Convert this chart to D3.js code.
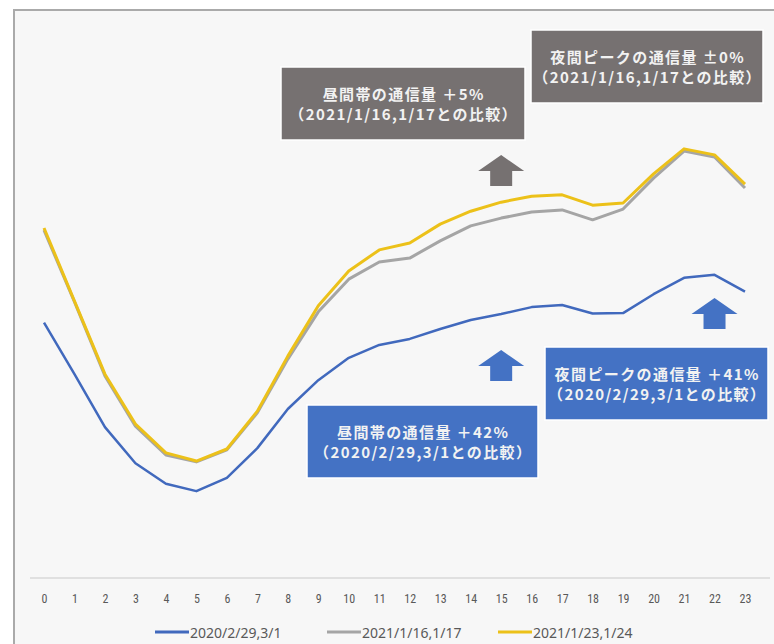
<!DOCTYPE html>
<html>
<head>
<meta charset="utf-8">
<script src="https://cdn.jsdelivr.net/npm/d3@7"></script>
<style>
  html, body { margin: 0; padding: 0; background: #ffffff; }
  svg { display: block; }
</style>
</head>
<body>
<svg id="chart" width="774" height="644"></svg>
<script>
// Hourly traffic index (peak of the latest weekend = ~100)
const hours = d3.range(0, 24);
const hourLabels = hours.map(String);

const seriesNames = ["2020/2/29,3/1", "2021/1/16,1/17", "2021/1/23,1/24"];
const seriesColors = ["#4169bd", "#a5a5a5", "#ecc119"];

const traffic2020 = [59.4, 47.4, 35.1, 26.7, 21.9, 20.2, 23.3, 30.2, 39.3, 46.0, 51.2, 54.2,
                     55.6, 57.9, 60.0, 61.4, 63.0, 63.5, 61.5, 61.6, 66.0, 69.8, 70.5, 66.6];
const traffic2021a = [80.9, 64.2, 47.0, 35.3, 28.6, 27.0, 29.8, 38.4, 50.9, 61.9, 69.5, 73.5,
                      74.4, 78.4, 81.9, 83.7, 85.1, 85.6, 83.3, 85.8, 93.0, 99.3, 97.9, 90.7];
const traffic2021b = [81.4, 64.4, 47.4, 35.8, 29.1, 27.2, 30.0, 38.8, 51.6, 63.3, 71.4, 76.3,
                      77.9, 82.3, 85.3, 87.4, 88.8, 89.1, 86.7, 87.2, 94.0, 99.8, 98.4, 91.6];

// Callout box texts
const calloutLines = [
  ["昼間帯の通信量 ＋5%", "（2021/1/16,1/17との比較）"],
  ["夜間ピークの通信量 ±0%", "（2021/1/16,1/17との比較）"],
  ["昼間帯の通信量 ＋42%", "（2020/2/29,3/1との比較）"],
  ["夜間ピークの通信量 ＋41%", "（2020/2/29,3/1との比較）"]
];

const svg = d3.select("#chart");
const W = 774, H = 644;

// Frame
svg.append("rect").attr("x", 14).attr("y", 10).attr("width", W + 20).attr("height", H + 20)
  .attr("fill", "#f7f7f7").attr("stroke", "#aaaaaa").attr("stroke-width", 2);

const x = d3.scaleLinear().domain([0, 23]).range([44, 745]);
const y = d3.scaleLinear().domain([0, 100]).range([578, 148]);

// Baseline
svg.append("line").attr("x1", 30).attr("x2", 770)
  .attr("y1", y(0)).attr("y2", y(0))
  .attr("stroke", "#d9d9d9").attr("stroke-width", 1.5);

// Hour axis labels
const xAxis = d3.axisBottom(x).tickValues(hours).tickFormat(d => hourLabels[d]).tickSize(0).tickPadding(16);
const gx = svg.append("g").attr("transform", `translate(0,${y(0)})`).call(xAxis);
gx.select(".domain").remove();
gx.selectAll("text")
  .attr("font-family", "'Liberation Sans Narrow', 'Roboto Condensed', 'Noto Sans', sans-serif")
  .attr("font-size", 12).attr("fill", "#595959");

// Lines
const line = d3.line().x((d, i) => x(hours[i])).y(d => y(d));
const seriesData = [traffic2020, traffic2021a, traffic2021b];
const widths = [2.5, 3, 3];
seriesData.forEach((vals, k) => {
  svg.append("path").datum(vals)
    .attr("d", line)
    .attr("fill", "none")
    .attr("stroke", seriesColors[k])
    .attr("stroke-width", widths[k])
    .attr("stroke-linejoin", "round");
});

// Callouts
const boxes = [
  { x0: 281, y0: 67, x1: 525, y1: 140, fill: "#767171" },
  { x0: 531, y0: 30, x1: 763, y1: 103, fill: "#767171" },
  { x0: 307, y0: 405, x1: 538, y1: 478, fill: "#4472c4" },
  { x0: 545, y0: 347, x1: 768, y1: 420, fill: "#4472c4" }
];
boxes.forEach((b, i) => {
  svg.append("rect").attr("x", b.x0).attr("y", b.y0)
    .attr("width", b.x1 - b.x0).attr("height", b.y1 - b.y0)
    .attr("fill", b.fill).attr("stroke", "#ffffff").attr("stroke-width", 1.5);
  const cx = (b.x0 + b.x1) / 2, cy = (b.y0 + b.y1) / 2;
  calloutLines[i].forEach((t, j) => {
    svg.append("text").attr("x", cx + 0.7).attr("y", cy + (j === 0 ? -10 : 10))
      .attr("text-anchor", "middle").attr("dominant-baseline", "central")
      .attr("font-family", "'Noto Sans CJK JP', sans-serif")
      .attr("font-weight", 700).attr("font-size", 15)
      .attr("letter-spacing", 1.4)
      .attr("fill", "#f2f2f2")
      .text(t);
  });
});

// Up arrows
const arrows = [
  { h: 15, top: 155, fill: "#767171" },
  { h: 15, top: 350, fill: "#4472c4" },
  { h: 22, top: 298, fill: "#4472c4" }
];
arrows.forEach(a => {
  const cx = x(a.h);
  const hw = 23, sw = 11, headH = 16, total = 31;
  const p = d3.path();
  p.moveTo(cx, a.top);
  p.lineTo(cx + hw, a.top + headH);
  p.lineTo(cx + sw, a.top + headH);
  p.lineTo(cx + sw, a.top + total);
  p.lineTo(cx - sw, a.top + total);
  p.lineTo(cx - sw, a.top + headH);
  p.lineTo(cx - hw, a.top + headH);
  p.closePath();
  svg.append("path").attr("d", p.toString()).attr("fill", a.fill);
});

// Legend
const legendX = [155, 327, 498];
seriesNames.forEach((name, k) => {
  const g = svg.append("g").attr("transform", `translate(${legendX[k]},632)`);
  g.append("line").attr("x1", 0).attr("x2", 34).attr("y1", 0).attr("y2", 0)
    .attr("stroke", seriesColors[k]).attr("stroke-width", 3);
  g.append("text").attr("x", 35).attr("y", 0).attr("dominant-baseline", "central")
    .attr("font-family", "'Liberation Sans Narrow', 'Noto Sans', sans-serif")
    .attr("font-size", 14).attr("fill", "#595959")
    .text(name);
});
</script>
</body>
</html>
